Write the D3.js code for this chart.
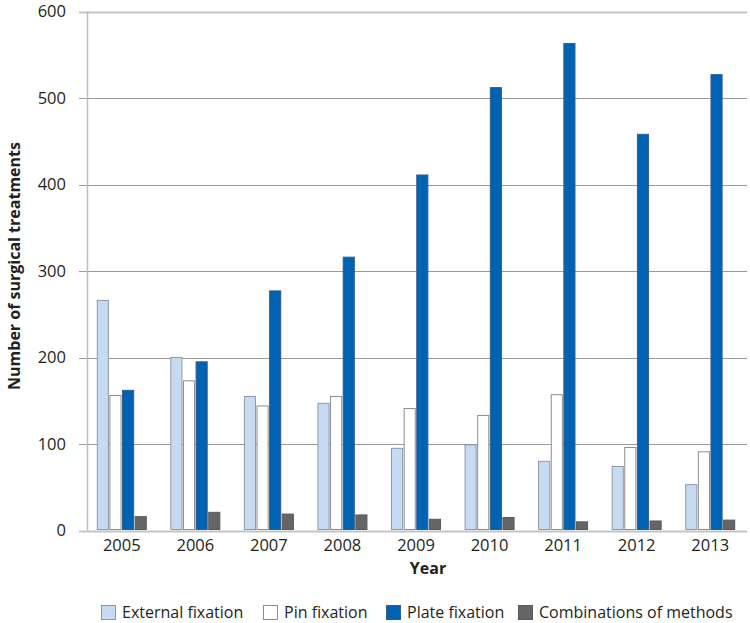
<!DOCTYPE html>
<html>
<head>
<meta charset="utf-8">
<script src="https://cdn.jsdelivr.net/npm/d3@7"></script>
<style>
  body { margin: 0; background: #fff; }
  text { font-family: "Open Sans", Lato, sans-serif; fill: #231f20; }
</style>
</head>
<body>
<script>
var years = ["2005", "2006", "2007", "2008", "2009", "2010", "2011", "2012", "2013"];
var seriesNames = ["External fixation", "Pin fixation", "Plate fixation", "Combinations of methods"];
var externalFixation = [266, 200, 155, 147, 95, 99, 80, 74, 53];
var pinFixation = [156, 173, 144, 155, 141, 133, 157, 96, 91];
var plateFixation = [162, 195, 277, 316, 411, 512, 563, 458, 527];
var combinations = [16, 21, 19, 18, 13, 15, 10, 11, 12];
var yTicks = [0, 100, 200, 300, 400, 500, 600];

var width = 750;
var height = 623;
var colors = ["#c6daf1", "#ffffff", "#0062b1", "#656565"];
var strokes = ["#8e9aa8", "#8d8d8d", "#2f5f93", "#5a5a5a"];

var svg = d3.select("body")
    .append("svg")
    .attr("width", width)
    .attr("height", height);

var x = d3.scaleBand()
    .domain(years)
    .range([85, 747])
    .paddingInner(0)
    .paddingOuter(0);

var x1 = d3.scaleBand()
    .domain(d3.range(4))
    .range([0, 50])
    .paddingInner(0.04);

var y = d3.scaleLinear()
    .domain([0, 600])
    .range([530.5, 11.5]);

//gridlines
svg.append("g")
    .selectAll("line")
    .data(yTicks)
    .enter()
    .append("line")
    .attr("x1", 79)
    .attr("x2", 747)
    .attr("y1", function(d) { return Math.round(y(d)) + 0.5; })
    .attr("y2", function(d) { return Math.round(y(d)) + 0.5; })
    .attr("stroke", function(d) { return d === 600 || d === 0 ? "#c4c4c4" : "#9a9a9a"; })
    .attr("stroke-width", function(d) { return d === 600 || d === 0 ? 2 : 1.2; });

//y axis line
svg.append("line")
    .attr("x1", 87.5).attr("x2", 87.5)
    .attr("y1", y(600)).attr("y2", y(0))
    .attr("stroke", "#bdbdbd")
    .attr("stroke-width", 1.5);

svg.append("g")
    .selectAll("text")
    .data(yTicks)
    .enter()
    .append("text")
    .attr("x", 66)
    .attr("y", function(d) { return y(d); })
    .attr("dy", "0.36em")
    .attr("text-anchor", "end")
    .style("font-size", "16.5px")
    .text(function(d) { return d; });

var series = [externalFixation, pinFixation, plateFixation, combinations];

var groups = svg.append("g")
    .selectAll("g")
    .data(years)
    .enter()
    .append("g")
    .attr("transform", function(d) {
        return "translate(" + (x(d) + x.bandwidth() / 2 - 25) + ",0)";
    });

groups.selectAll("rect")
    .data(function(d, i) { return series.map(function(s, k) { return {k: k, v: s[i]}; }); })
    .enter()
    .append("rect")
    .attr("x", function(d) { return x1(d.k) + 0.5; })
    .attr("width", x1.bandwidth() - 1)
    .attr("y", function(d) { return y(d.v); })
    .attr("height", function(d) { return y(0) - y(d.v) - 1; })
    .attr("fill", function(d) { return colors[d.k]; })
    .attr("stroke", function(d) { return strokes[d.k]; })
    .attr("stroke-width", 1);

//x labels
svg.append("g")
    .selectAll("text")
    .data(years)
    .enter()
    .append("text")
    .attr("x", function(d) { return x(d) + x.bandwidth() / 2; })
    .attr("y", 551)
    .attr("text-anchor", "middle")
    .style("font-size", "16.5px")
    .text(function(d) { return d; });

svg.append("text")
    .attr("x", 428)
    .attr("y", 574)
    .attr("text-anchor", "middle")
    .style("font-size", "16px")
    .style("font-weight", "bold")
    .text("Year");

svg.append("text")
    .attr("transform", "translate(20,266) rotate(-90)")
    .attr("text-anchor", "middle")
    .style("font-size", "16px")
    .style("font-weight", "bold")
    .text("Number of surgical treatments");

//legend
var legendX = [101, 263, 386, 518];
var legend = svg.append("g")
    .selectAll("g")
    .data(seriesNames)
    .enter()
    .append("g")
    .attr("transform", function(d, i) { return "translate(" + legendX[i] + ",605)"; });

legend.append("rect")
    .attr("x", 0.5).attr("y", 0.5)
    .attr("width", 14).attr("height", 14)
    .attr("fill", function(d, i) { return colors[i]; })
    .attr("stroke", function(d, i) { return strokes[i]; });

legend.append("text")
    .attr("x", 21)
    .attr("y", 13)
    .style("font-size", "16px")
    .text(function(d) { return d; });
</script>
</body>
</html>
